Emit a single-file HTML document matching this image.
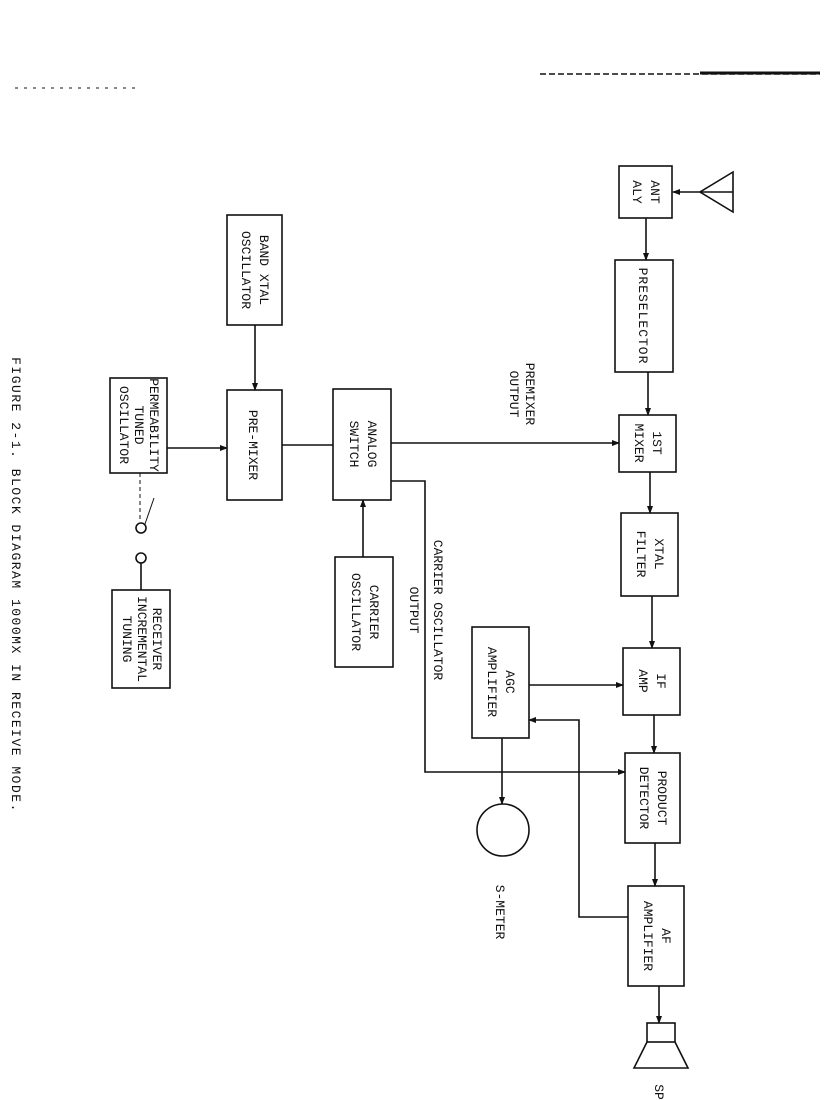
<!DOCTYPE html>
<html><head><style>
html,body{margin:0;padding:0;background:#fff;}
svg{display:block;}
text{font-family:"Liberation Mono",monospace;fill:#111;font-size:13px;}
</style></head><body>
<svg width="832" height="1100" viewBox="0 0 832 1100" xmlns="http://www.w3.org/2000/svg">
<defs><marker id="a" markerWidth="8" markerHeight="8" refX="7" refY="4" orient="auto" markerUnits="userSpaceOnUse"><path d="M0,1 L8,4 L0,7z" fill="#111"/></marker></defs>
<g stroke="#111" stroke-width="1.6" fill="none">
<line x1="540" y1="74" x2="820" y2="74" stroke-dasharray="6 3"/>
<line x1="700" y1="73" x2="820" y2="73" stroke-width="3"/>
<line x1="15" y1="88" x2="140" y2="88" stroke-dasharray="3 6" stroke-width="1"/>
<rect x="619" y="166" width="53" height="52"/>
<rect x="615" y="260" width="58" height="112"/>
<rect x="619" y="415" width="57" height="57"/>
<rect x="621" y="513" width="57" height="83"/>
<rect x="623" y="648" width="57" height="67"/>
<rect x="625" y="753" width="55" height="90"/>
<rect x="628" y="886" width="56" height="100"/>
<rect x="472" y="627" width="57" height="111"/>
<rect x="333" y="389" width="58" height="111"/>
<rect x="335" y="557" width="58" height="110"/>
<rect x="227" y="215" width="55" height="110"/>
<rect x="227" y="390" width="55" height="110"/>
<rect x="110" y="378" width="57" height="95"/>
<rect x="112" y="590" width="58" height="98"/>
<circle cx="503" cy="830" r="26"/>
<path d="M733,172 L700,192 L733,212 Z"/>
<line x1="700" y1="192" x2="733" y2="192"/>
<line x1="700" y1="192" x2="673" y2="192" marker-end="url(#a)"/>
<rect x="647" y="1023" width="28" height="19"/>
<path d="M647,1042 L634,1068 L688,1068 L675,1042"/>
<line x1="646" y1="218" x2="646" y2="260" marker-end="url(#a)"/>
<line x1="648" y1="372" x2="648" y2="415" marker-end="url(#a)"/>
<line x1="650" y1="472" x2="650" y2="513" marker-end="url(#a)"/>
<line x1="652" y1="596" x2="652" y2="648" marker-end="url(#a)"/>
<line x1="654" y1="715" x2="654" y2="753" marker-end="url(#a)"/>
<line x1="655" y1="843" x2="655" y2="886" marker-end="url(#a)"/>
<line x1="659" y1="986" x2="659" y2="1023" marker-end="url(#a)"/>
<line x1="391" y1="443" x2="619" y2="443" marker-end="url(#a)"/>
<path d="M391,481 L425,481 L425,772 L625,772" marker-end="url(#a)"/>
<line x1="363" y1="557" x2="363" y2="500" marker-end="url(#a)"/>
<line x1="529" y1="685" x2="623" y2="685" marker-end="url(#a)"/>
<path d="M628,917 L579,917 L579,720 L529,720" marker-end="url(#a)"/>
<line x1="502" y1="738" x2="502" y2="804" marker-end="url(#a)"/>
<line x1="255" y1="325" x2="255" y2="390" marker-end="url(#a)"/>
<line x1="282" y1="445" x2="333" y2="445"/>
<line x1="167" y1="448" x2="227" y2="448" marker-end="url(#a)"/>
<line x1="140" y1="473" x2="140" y2="522" stroke-dasharray="4 3" stroke-width="1"/>
<circle cx="141" cy="528" r="5"/>
<circle cx="141" cy="558" r="5"/>
<line x1="145" y1="524" x2="154" y2="498" stroke-width="1"/>
<line x1="141" y1="563" x2="141" y2="590"/>
</g>
<g text-anchor="middle">
<text transform="translate(645,192) rotate(90)"><tspan x="0" y="-6">ANT</tspan><tspan x="0" y="12">ALY</tspan></text>
<text transform="translate(644,316) rotate(90)" y="5" letter-spacing="1">PRESELECTOR</text>
<text transform="translate(647,443) rotate(90)"><tspan x="0" y="-6">1ST</tspan><tspan x="0" y="12">MIXER</tspan></text>
<text transform="translate(649,554) rotate(90)"><tspan x="0" y="-6">XTAL</tspan><tspan x="0" y="12">FILTER</tspan></text>
<text transform="translate(651,681) rotate(90)"><tspan x="0" y="-6">IF</tspan><tspan x="0" y="12">AMP</tspan></text>
<text transform="translate(652,798) rotate(90)"><tspan x="0" y="-6">PRODUCT</tspan><tspan x="0" y="12">DETECTOR</tspan></text>
<text transform="translate(656,936) rotate(90)"><tspan x="0" y="-6">AF</tspan><tspan x="0" y="12">AMPLIFIER</tspan></text>
<text transform="translate(500,682) rotate(90)"><tspan x="0" y="-6">AGC</tspan><tspan x="0" y="12">AMPLIFIER</tspan></text>
<text transform="translate(362,444) rotate(90)"><tspan x="0" y="-6">ANALOG</tspan><tspan x="0" y="12">SWITCH</tspan></text>
<text transform="translate(364,612) rotate(90)"><tspan x="0" y="-6">CARRIER</tspan><tspan x="0" y="12">OSCILLATOR</tspan></text>
<text transform="translate(254,270) rotate(90)"><tspan x="0" y="-6">BAND XTAL</tspan><tspan x="0" y="12">OSCILLATOR</tspan></text>
<text transform="translate(254,445) rotate(90)" y="5">PRE-MIXER</text>
<text transform="translate(138,425) rotate(90)" font-size="11"><tspan x="0" y="-12">PERMEABILITY</tspan><tspan x="0" y="3">TUNED</tspan><tspan x="0" y="18">OSCILLATOR</tspan></text>
<text transform="translate(141,639) rotate(90)" font-size="11"><tspan x="0" y="-12">RECEIVER</tspan><tspan x="0" y="3">INCREMENTAL</tspan><tspan x="0" y="18">TUNING</tspan></text>
<text transform="translate(520,394) rotate(90)" font-size="12"><tspan x="0" y="-6">PREMIXER</tspan><tspan x="0" y="10">OUTPUT</tspan></text>
<text transform="translate(424,610) rotate(90)"><tspan x="0" y="-10">CARRIER OSCILLATOR</tspan><tspan x="0" y="14">OUTPUT</tspan></text>
<text transform="translate(501,912) rotate(90)" y="5">S-METER</text>
<text transform="translate(660,1092) rotate(90)" y="5">SP</text>
<text transform="translate(16,585) rotate(90)" y="4" fill="#666" font-size="12" letter-spacing="1.5">FIGURE 2-1. BLOCK DIAGRAM 1000MX IN RECEIVE MODE.</text>
</g>
</svg>
</body></html>
